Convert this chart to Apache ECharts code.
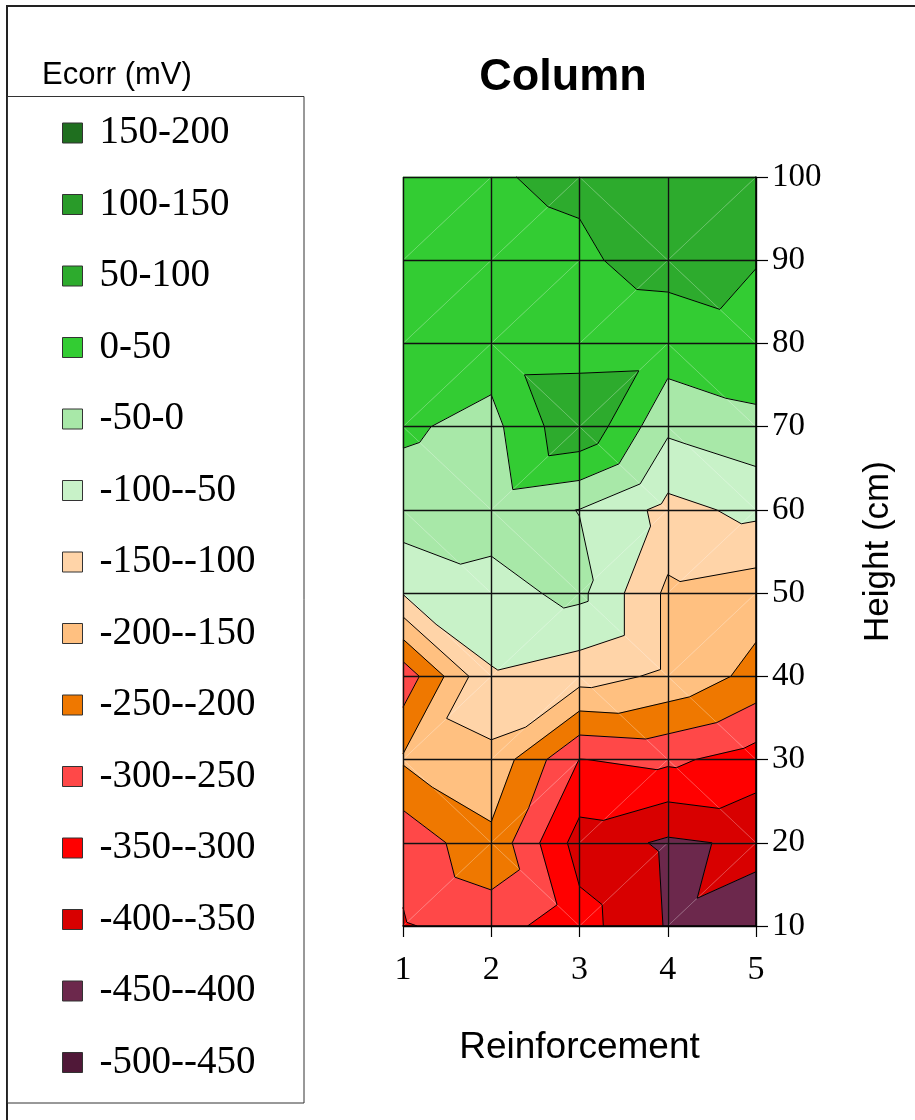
<!DOCTYPE html>
<html>
<head>
<meta charset="utf-8">
<title>Column</title>
<script src="https://cdn.jsdelivr.net/npm/echarts@6/dist/echarts.min.js"></script>
<style>
  html, body { margin: 0; padding: 0; background: #fff; }
  #chart { width: 915px; height: 1120px; }
</style>
</head>
<body>
<div id="chart"></div>
<script>
// Ecorr (mV) read at each node, one array per reinforcement bar, heights top to bottom
var heights = [100, 90, 80, 70, 60, 50, 40, 30, 20, 10]
var reinforcement = [1, 2, 3, 4, 5]
var ecorr1 = [30, 30, 25, 7, -20, -97, -283, -194, -286, -304]
var ecorr2 = [48, 41, 24, -15, -30, -66, -105, -164, -212, -279]
var ecorr3 = [55, 45, 26, 93, -51, -38, -128, -301, -372, -330]
var ecorr4 = [65, 63, 29, -40, -115, -160, -160, -290, -408, -404]
var ecorr5 = [70, 51, 41, -15, -88, -177, -216, -322, -392, -415]

// contour bands (legend order)
var bandLabels = ['150-200', '100-150', '50-100', '0-50', '-50-0', '-100--50', '-150--100',
  '-200--150', '-250--200', '-300--250', '-350--300', '-400--350', '-450--400', '-500--450']
var bandLow = [150, 100, 50, 0, -50, -100, -150, -200, -250, -300, -350, -400, -450, -500]
var bandHigh = [200, 150, 100, 50, 0, -50, -100, -150, -200, -250, -300, -350, -400, -450]
var bandColors = ['#1f6f1f', '#299b29', '#2dab2d', '#33cc33', '#a8e8a8', '#c8f2c8', '#ffd4a8',
  '#ffc080', '#ef7800', '#ff4848', '#ff0000', '#d80000', '#6c284c', '#501838']

var columns = [ecorr1, ecorr2, ecorr3, ecorr4, ecorr5]

function node(i, j) {
  return [reinforcement[i], heights[j], columns[i][j]]
}

// split every cell in two triangles along the diagonal with the larger sum
var triangles = []
var diagonals = []
for (var i = 0; i < reinforcement.length - 1; i++) {
  for (var j = 0; j < heights.length - 1; j++) {
    var tl = node(i, j)
    var tr = node(i + 1, j)
    var bl = node(i, j + 1)
    var br = node(i + 1, j + 1)
    if (bl[2] + tr[2] >= tl[2] + br[2]) {
      triangles.push([bl, tr, tl], [bl, tr, br])
      diagonals.push([bl, tr])
    } else {
      triangles.push([tl, br, tr], [tl, br, bl])
      diagonals.push([tl, br])
    }
  }
}

function clip(poly, level, keepAbove) {
  var out = []
  for (var k = 0; k < poly.length; k++) {
    var a = poly[k]
    var b = poly[(k + 1) % poly.length]
    var ina = keepAbove ? a[2] >= level : a[2] <= level
    var inb = keepAbove ? b[2] >= level : b[2] <= level
    if (ina) out.push(a)
    if (ina !== inb) {
      var t = (level - a[2]) / (b[2] - a[2])
      out.push([a[0] + t * (b[0] - a[0]), a[1] + t * (b[1] - a[1]), level])
    }
  }
  return out
}

var bandPolygons = bandLabels.map(function (label, b) {
  var list = []
  triangles.forEach(function (tri) {
    var p = clip(clip(tri, bandLow[b], true), bandHigh[b], false)
    if (p.length >= 3) list.push(p)
  })
  return list
})

var segments = []
bandLow.slice(0, -1).forEach(function (level) {
  triangles.forEach(function (tri) {
    var pts = []
    for (var k = 0; k < 3; k++) {
      var a = tri[k]
      var b = tri[(k + 1) % 3]
      if ((a[2] >= level) !== (b[2] >= level)) {
        var t = (level - a[2]) / (b[2] - a[2])
        pts.push([a[0] + t * (b[0] - a[0]), a[1] + t * (b[1] - a[1])])
      }
    }
    if (pts.length === 2) segments.push(pts)
  })
})

var chart = echarts.init(document.getElementById('chart'))

var series = bandLabels.map(function (label, b) {
  var polys = bandPolygons[b]
  return {
    name: label,
    type: 'custom',
    z: 2,
    silent: true,
    itemStyle: { color: bandColors[b] },
    data: polys.map(function (p) { return [p[0][0], p[0][1]] }),
    renderItem: function (params, api) {
      var p = polys[params.dataIndex]
      return {
        type: 'polygon',
        shape: { points: p.map(function (v) { return api.coord([v[0], v[1]]) }) },
        style: { fill: bandColors[b], stroke: bandColors[b], lineWidth: 0.6 }
      }
    }
  }
})

series.push({
  type: 'custom',
  z: 3,
  silent: true,
  data: diagonals.map(function (d) { return [d[0][0], d[0][1]] }),
  renderItem: function (params, api) {
    var d = diagonals[params.dataIndex]
    var p1 = api.coord([d[0][0], d[0][1]])
    var p2 = api.coord([d[1][0], d[1][1]])
    return {
      type: 'line',
      shape: { x1: p1[0], y1: p1[1], x2: p2[0], y2: p2[1] },
      style: { stroke: 'rgba(255,255,255,0.25)', lineWidth: 1 }
    }
  }
})

series.push({
  type: 'custom',
  z: 4,
  silent: true,
  data: segments.map(function (s) { return s[0] }),
  renderItem: function (params, api) {
    var s = segments[params.dataIndex]
    var p1 = api.coord(s[0])
    var p2 = api.coord(s[1])
    return {
      type: 'line',
      shape: { x1: p1[0], y1: p1[1], x2: p2[0], y2: p2[1] },
      style: { stroke: '#000', lineWidth: 1 }
    }
  }
})

chart.setOption({
  animation: false,
  backgroundColor: '#fff',
  title: {
    text: 'Column',
    left: 563,
    top: 55,
    padding: 0,
    textAlign: 'center',
    textStyle: { fontFamily: 'Liberation Sans', fontWeight: 'bold', fontSize: 45, color: '#000' }
  },
  graphic: [
    {
      type: 'rect',
      silent: true,
      shape: { x: 7, y: 6, width: 940, height: 1140 },
      style: { fill: 'none', stroke: '#222', lineWidth: 2 }
    },
    {
      type: 'rect',
      silent: true,
      shape: { x: 7.5, y: 96.5, width: 296.5, height: 1006.5 },
      style: { fill: 'none', stroke: '#333', lineWidth: 1 }
    },
    {
      type: 'text',
      left: 42,
      top: 60,
      silent: true,
      style: { text: 'Ecorr (mV)', font: '31px "Liberation Sans"', fill: '#000' }
    }
  ],
  legend: {
    data: bandLabels,
    orient: 'vertical',
    left: 62,
    top: 107,
    padding: 0,
    itemGap: 19.5,
    itemWidth: 20,
    itemHeight: 20,
    icon: 'rect',
    selectedMode: false,
    itemStyle: { borderColor: '#333', borderWidth: 1 },
    textStyle: {
      fontFamily: 'Liberation Serif',
      fontSize: 39,
      lineHeight: 36,
      color: '#000',
      padding: [0, 0, 16, 12]
    }
  },
  grid: { left: 403, top: 177, width: 353, height: 749, containLabel: false },
  xAxis: {
    type: 'value',
    min: 1,
    max: 5,
    interval: 1,
    z: 10,
    name: 'Reinforcement',
    nameLocation: 'middle',
    nameGap: 103,
    nameTextStyle: { fontFamily: 'Liberation Sans', fontSize: 37, color: '#000' },
    axisLine: { show: true, onZero: false, lineStyle: { color: '#000', width: 1.5 } },
    axisTick: { show: true, length: 11, lineStyle: { color: '#000', width: 1.2 } },
    axisLabel: { margin: 27, fontFamily: 'Liberation Serif', fontSize: 34, color: '#000' },
    splitLine: { show: true, lineStyle: { color: '#111', width: 1.4 } }
  },
  yAxis: {
    type: 'value',
    position: 'right',
    min: 10,
    max: 100,
    interval: 10,
    z: 10,
    name: 'Height (cm)',
    nameLocation: 'middle',
    nameRotate: 90,
    nameGap: 105,
    nameTextStyle: { fontFamily: 'Liberation Sans', fontSize: 35, color: '#000' },
    axisLine: { show: true, onZero: false, lineStyle: { color: '#000', width: 1.5 } },
    axisTick: { show: true, length: 12, lineStyle: { color: '#000', width: 1.2 } },
    axisLabel: { margin: 16, fontFamily: 'Liberation Serif', fontSize: 33, color: '#000' },
    splitLine: { show: true, lineStyle: { color: '#111', width: 1.4 } }
  },
  series: series
})
</script>
</body>
</html>
